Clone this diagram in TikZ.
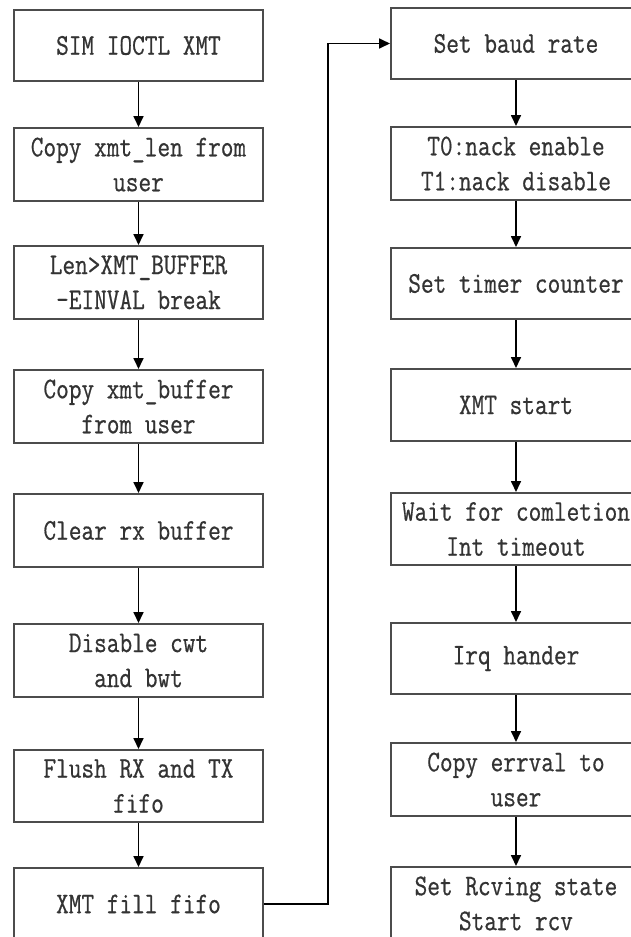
\documentclass[tikz,border=0pt]{standalone}
\usepackage{fontspec}
\setmonofont[FakeStretch=0.82,FakeBold=0.6]{Latin Modern Mono}
\usetikzlibrary{arrows.meta}
\tikzset{
  box/.style={draw=black!70, line width=2pt, minimum width=249pt, align=center,
    inner sep=0pt, font=\ttfamily\fontsize{30}{35}\selectfont, text=black!80},
  flow/.style={line width=1.7pt, draw=black, -{Triangle[length=11pt,width=10pt]}}
}
\begin{document}
\begin{tikzpicture}[x=1pt,y=-1pt]
\clip (0,0) rectangle (631,937);
\fill[white] (0,0) rectangle (631,937);
% left column
\node[box, minimum height=71pt] (l1) at (138.5,45.5) {SIM IOCTL XMT};
\node[box, minimum height=73pt] (l2) at (138.5,164.5) {Copy xmt\_len from\\user};
\node[box, minimum height=73pt] (l3) at (138.5,282.5) {Len>XMT\_BUFFER\\-EINVAL break};
\node[box, minimum height=73pt] (l4) at (138.5,406.5) {Copy xmt\_buffer\\from user};
\node[box, minimum height=73pt] (l5) at (138.5,530.5) {Clear rx buffer};
\node[box, minimum height=73pt] (l6) at (138.5,660.5) {Disable cwt\\and bwt};
\node[box, minimum height=72pt] (l7) at (138.5,786) {Flush RX and TX\\fifo};
\node[box, minimum height=72pt] (l8) at (138.5,904) {XMT fill fifo};
% right column
\node[box, minimum width=250pt, minimum height=71pt] (r1) at (516,43.5) {Set baud rate};
\node[box, minimum width=250pt, minimum height=73pt] (r2) at (516,163.5) {T0:nack enable\\T1:nack disable};
\node[box, minimum width=250pt, minimum height=71pt] (r3) at (516,283.5) {Set timer counter};
\node[box, minimum width=250pt, minimum height=72pt] (r4) at (516,405) {XMT start};
\node[box, minimum width=250pt, minimum height=72pt] (r5) at (516,529) {Wait for comletion\\Int timeout};
\node[box, minimum width=250pt, minimum height=71pt] (r6) at (516,658.5) {Irq hander};
\node[box, minimum width=250pt, minimum height=73pt] (r7) at (516,779.5) {Copy errval to\\user};
\node[box, minimum width=250pt, minimum height=73pt] (r8) at (516,903.5) {Set Rcving state\\Start rcv};
% connectors
\draw[flow] (l1) -- (l2);
\draw[flow] (l2) -- (l3);
\draw[flow] (l3) -- (l4);
\draw[flow] (l4) -- (l5);
\draw[flow] (l5) -- (l6);
\draw[flow] (l6) -- (l7);
\draw[flow] (l7) -- (l8);
\draw[flow] (l8.east) -- ++(64,0) |- (r1.west);
\draw[flow] (r1) -- (r2);
\draw[flow] (r2) -- (r3);
\draw[flow] (r3) -- (r4);
\draw[flow] (r4) -- (r5);
\draw[flow] (r5) -- (r6);
\draw[flow] (r6) -- (r7);
\draw[flow] (r7) -- (r8);
\end{tikzpicture}
\end{document}
